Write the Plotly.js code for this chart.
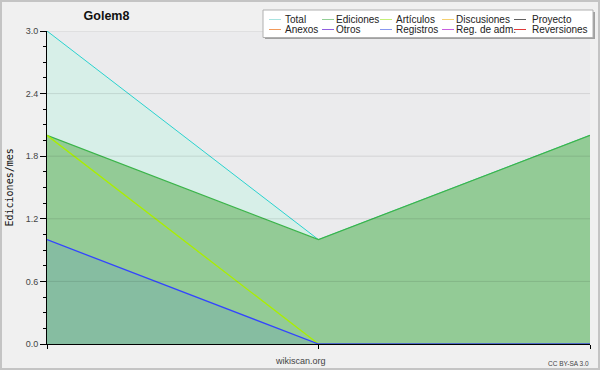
<!DOCTYPE html>
<html>
<head>
<meta charset="utf-8">
<script src="https://cdn.plot.ly/plotly-3.0.1.min.js"></script>
<style>
  html, body { margin: 0; padding: 0; background: #f0f0f0; }
  #wrap { position: relative; width: 600px; height: 370px; }
  #chart { width: 600px; height: 370px; }
  #frame { position: absolute; left: 0; top: 0; width: 600px; height: 370px; box-sizing: border-box; border: 2px solid #c4c4c4; pointer-events: none; }
</style>
</head>
<body>
<div id="wrap"><div id="chart"></div><div id="frame"></div></div>
<script>
// ---- data ----
const months = [0, 1, 2];
const total = [3, 1, 2];
const ediciones = [2, 1, 2];
const articulos = [2, 0, 0];
const registros = [1, 0, 0];
const yTicks = [0, 0.6, 1.2, 1.8, 2.4, 3.0];
const legendNames = ['Total', 'Ediciones', 'Artículos', 'Discusiones', 'Proyecto',
                     'Anexos', 'Otros', 'Registros', 'Reg. de adm.', 'Reversiones'];
const legendColors = ['#a8e3e0', '#92cf95', '#c5f078', '#f5d070', '#606060',
                      '#f29a5a', '#9060e0', '#8898f0', '#c860e0', '#e03a3a'];

// ---- layout helpers ----
const W = 600, H = 370, L = 47, R = 10, T = 31, B = 26;
const pw = W - L - R, ph = H - T - B;
const px = x => (x - L) / pw;
const py = y => (H - B - y) / ph;

const traces = [
  { x: months, y: total, type: 'scatter', mode: 'lines', fill: 'tozeroy',
    fillcolor: '#d7efe8', line: { color: '#2ad2cf', width: 1 }, hoverinfo: 'none' },
  { x: months, y: ediciones, type: 'scatter', mode: 'lines', fill: 'tozeroy',
    fillcolor: '#93cb96', line: { color: '#3bb44a', width: 1.3 }, hoverinfo: 'none' },
  { x: months, y: articulos, type: 'scatter', mode: 'lines',
    line: { color: '#aaee00', width: 1.3 }, hoverinfo: 'none' },
  { x: months, y: registros, type: 'scatter', mode: 'lines', fill: 'tozeroy',
    fillcolor: 'rgba(40,80,255,0.11)', line: { color: '#3344ff', width: 1.3 }, hoverinfo: 'none' }
];

const shapes = [];
// gridlines above fills
yTicks.forEach(v => {
  if (v > 0) shapes.push({ type: 'line', xref: 'paper', yref: 'y', x0: 0, x1: 1, y0: v, y1: v,
    line: { color: 'rgba(0,0,0,0.1)', width: 1 }, layer: 'above' });
});
// legend box with shadow
shapes.push({ type: 'rect', xref: 'paper', yref: 'paper', x0: px(265), x1: px(595), y0: py(39), y1: py(12),
  line: { width: 0 }, fillcolor: '#a0a0a0', layer: 'above' });
shapes.push({ type: 'rect', xref: 'paper', yref: 'paper', x0: px(263), x1: px(593), y0: py(37.5), y1: py(10),
  line: { color: '#b0b0b0', width: 1 }, fillcolor: '#ffffff', layer: 'above' });

const annotations = [];
const colLineX = [269, 322, 380, 442, 514];
const colTextX = [283, 334, 394, 454, 530];
const rowY = [19.5, 29.5];
legendNames.forEach((name, i) => {
  const c = i % 5, r = Math.floor(i / 5);
  shapes.push({ type: 'line', xref: 'paper', yref: 'paper',
    x0: px(colLineX[c]), x1: px(colLineX[c] + 12), y0: py(rowY[r]), y1: py(rowY[r]),
    line: { color: legendColors[i], width: 1 }, layer: 'above' });
  annotations.push({ text: name, xref: 'paper', yref: 'paper', x: px(colTextX[c]), y: py(rowY[r]),
    xanchor: 'left', yanchor: 'middle', showarrow: false,
    font: { family: 'Liberation Sans, Arial, sans-serif', size: 10, color: '#222' } });
});

annotations.push({ text: 'Ediciones/mes', xref: 'paper', yref: 'paper', x: px(9), y: py(187.5),
  xanchor: 'center', yanchor: 'middle', textangle: -90, showarrow: false,
  font: { family: 'DejaVu Sans Mono, monospace', size: 10, color: '#111' } });
annotations.push({ text: 'wikiscan.org', xref: 'paper', yref: 'paper', x: px(300), y: py(361),
  xanchor: 'center', yanchor: 'middle', showarrow: false,
  font: { family: 'Liberation Sans, Arial, sans-serif', size: 9, color: '#444' } });
annotations.push({ text: 'CC BY-SA 3.0', xref: 'paper', yref: 'paper', x: px(591), y: py(363),
  xanchor: 'right', yanchor: 'middle', showarrow: false,
  font: { family: 'Liberation Sans, Arial, sans-serif', size: 6.5, color: '#444' } });

const layout = {
  width: W, height: H,
  margin: { l: L, r: R, t: T, b: B, pad: 0 },
  paper_bgcolor: '#f0f0f0',
  plot_bgcolor: '#ebebed',
  showlegend: false,
  title: { text: '<b>Golem8</b>', x: 106.5 / W, xref: 'container', xanchor: 'center',
    y: 1 - 16 / H, yref: 'container', yanchor: 'middle',
    font: { family: 'Liberation Sans, Arial, sans-serif', size: 12.5, color: '#111' } },
  xaxis: {
    range: [0, 2], tickvals: months, showticklabels: false,
    ticks: 'outside', ticklen: 4, tickcolor: '#000', tickwidth: 1,
    showline: true, linecolor: '#000', linewidth: 1,
    showgrid: false, zeroline: false, fixedrange: true
  },
  yaxis: {
    range: [0, 3], tickvals: yTicks, ticktext: yTicks.map(v => v.toFixed(1)),
    ticks: 'outside', ticklen: 6, tickcolor: '#000', tickwidth: 1,
    minor: { tick0: 0, dtick: 0.15, ticks: 'outside', ticklen: 3, tickcolor: '#000', showgrid: false },
    showline: true, linecolor: '#000', linewidth: 1,
    showgrid: false, zeroline: false, fixedrange: true,
    tickfont: { family: 'Liberation Sans, Arial, sans-serif', size: 9, color: '#444' }
  },
  shapes: shapes,
  annotations: annotations
};

Plotly.newPlot('chart', traces, layout, { staticPlot: true, displayModeBar: false });
</script>
</body>
</html>
